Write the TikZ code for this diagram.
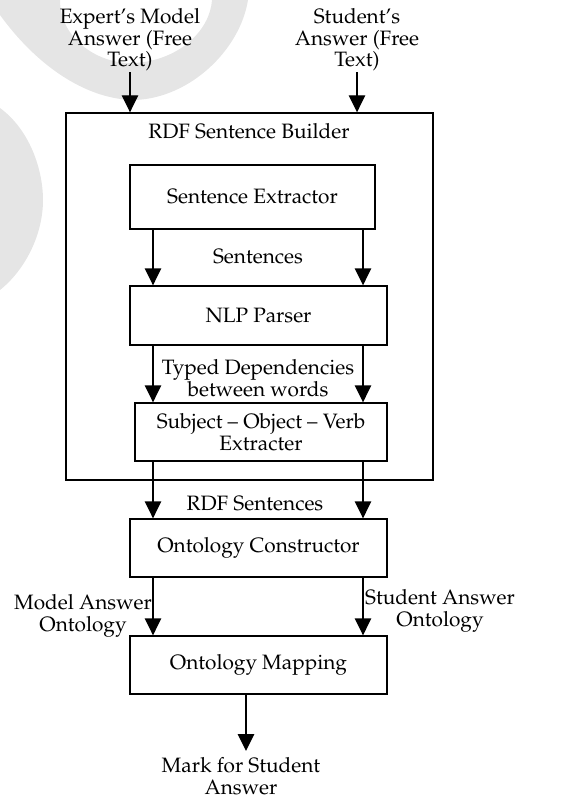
\documentclass[tikz,border=0pt]{standalone}
\usepackage[T1]{fontenc}
\renewcommand{\rmdefault}{ppl}
\usetikzlibrary{arrows.meta}
\begin{document}
\begin{tikzpicture}[x=1pt,y=-1pt,
  every node/.style={font=\fontsize{20.8}{21.5}\selectfont, inner sep=0pt, align=center},
  blk/.style={draw, line width=1.4pt},
  arr/.style={line width=1.4pt, -{Triangle[width=16.5pt,length=17pt]}}]
\useasboundingbox (0,0) rectangle (562,799);
% background watermark shapes
\fill[gray!20] (0,0) -- (0,15) .. controls (40,70) and (90,100) .. (135,100)
   .. controls (190,98) and (240,50) .. (248,0) -- (212,0)
   .. controls (210,30) and (180,60) .. (135,63)
   .. controls (100,65) and (60,40) .. (60,0) -- cycle;
\fill[gray!20] (0,108) .. controls (30,130) and (43,170) .. (43,200)
   .. controls (43,235) and (25,270) .. (0,290) -- cycle;
% coordinates for arrow columns
\coordinate (L) at (153,0);
\coordinate (R) at (363,0);
% outer box
\node[blk, minimum width=367pt, minimum height=367pt] (rdfb) at (249.5,296.5) {};
\node (rdft) at (249,131) {RDF Sentence Builder};
% inputs
\node (exp) at (130,40) {Expert's Model\\Answer (Free\\Text)};
\node (stu) at (357,40) {Student's\\Answer (Free\\Text)};
% blocks
\node[blk, minimum width=245pt, minimum height=64pt] (se) at (252.5,197) {Sentence Extractor};
\node[blk, minimum width=257pt, minimum height=59pt] (nlp) at (258.5,315.5) {NLP Parser};
\node[blk, minimum width=252pt, minimum height=58pt] (sov) at (261,432) {Subject -- Object -- Verb\\Extracter};
\node[blk, minimum width=257pt, minimum height=58pt] (oc) at (258.5,548) {Ontology Constructor};
\node[blk, minimum width=257pt, minimum height=58pt] (om) at (258.5,665) {Ontology Mapping};
% labels
\node (sent) at (258,257) {Sentences};
\node (typed) at (258,378) {Typed Dependencies\\between words};
\node (rdfs) at (255,504) {RDF Sentences};
\node (mao) at (83,616) {Model Answer\\Ontology};
\node (sao) at (440,611) {Student Answer\\Ontology};
\node (mark) at (241,776) {Mark for Student\\Answer};
\coordinate (out) at (246,751);
% connectors
\draw[arr] (exp.south) ++(0,1) -- (exp.south |- rdfb.north);
\draw[arr] (stu.south) ++(0,1) -- (stu.south |- rdfb.north);
\draw[arr] (se.south -| L) -- (nlp.north -| L);
\draw[arr] (se.south -| R) -- (nlp.north -| R);
\draw[arr] (nlp.south -| L) -- (sov.north -| L);
\draw[arr] (nlp.south -| R) -- (sov.north -| R);
\draw[arr] (sov.south -| L) -- (oc.north -| L);
\draw[arr] (sov.south -| R) -- (oc.north -| R);
\draw[arr] (oc.south -| L) -- (om.north -| L);
\draw[arr] (oc.south -| R) -- (om.north -| R);
\draw[arr] (om.south -| out) -- (out);
\end{tikzpicture}
\end{document}
